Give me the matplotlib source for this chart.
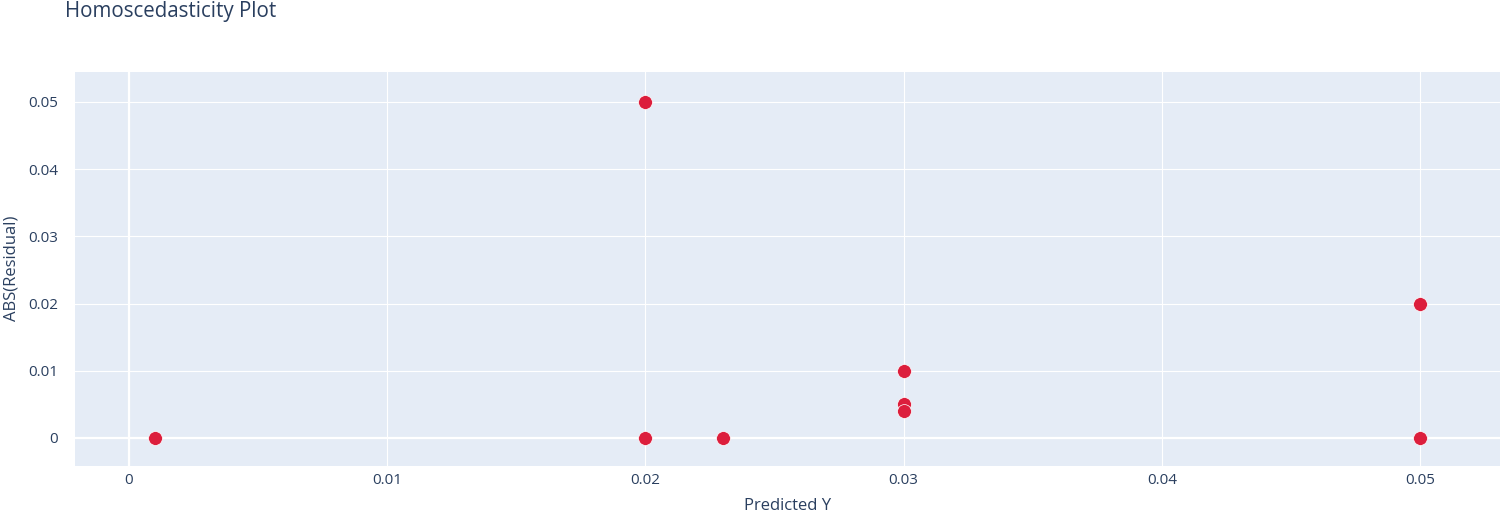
import matplotlib
matplotlib.use('agg')
import matplotlib.pyplot as plt

# data
predicted = [0.001, 0.02, 0.02, 0.023, 0.03, 0.03, 0.03, 0.05, 0.05]
abs_resid = [0.0, 0.05, 0.0, 0.0, 0.01, 0.005, 0.004, 0.02, 0.0]
x_ticks = [0, 0.01, 0.02, 0.03, 0.04, 0.05]
x_labels = ['0', '0.01', '0.02', '0.03', '0.04', '0.05']
y_ticks = [0, 0.01, 0.02, 0.03, 0.04, 0.05]
y_labels = ['0', '0.01', '0.02', '0.03', '0.04', '0.05']

plt.rcParams['font.family'] = ['Open Sans', 'DejaVu Sans']
txt = '#2a3f5f'

W, H = 1505, 515
fig = plt.figure(figsize=(W / 100, H / 100), dpi=100)
ax = fig.add_axes([75 / W, 1 - 466 / H, (1500 - 75) / W, (466 - 72) / H])
ax.set_facecolor('#e5ecf6')
for s in ax.spines.values():
    s.set_visible(False)

ax.set_xlim(-0.00209, 0.0531)
ax.set_ylim(-0.00417, 0.05446)
ax.set_xticks(x_ticks)
ax.set_xticklabels(x_labels)
ax.set_yticks(y_ticks)
ax.set_yticklabels(y_labels)
ax.tick_params(axis='x', length=0, labelsize=11, colors=txt, pad=5)
ax.tick_params(axis='y', length=0, labelsize=11, colors=txt, pad=12)
ax.grid(color='white', linewidth=0.8)
ax.set_axisbelow(True)
ax.axhline(0, color='white', linewidth=1.6, zorder=1)
ax.axvline(0, color='white', linewidth=1.6, zorder=1)

ax.scatter(predicted, abs_resid, s=100, color='#dc1e3c', edgecolor='white',
           linewidth=0.5, zorder=3)

fig.text(788 / W, 1 - 506 / H, 'Predicted Y', fontsize=12, color=txt,
         ha='center', va='center')
fig.text(12 / W, 1 - 268 / H, 'ABS(Residual)', fontsize=12, color=txt,
         ha='center', va='center', rotation=90)
fig.text(65 / W, 1 - 12 / H, 'Homoscedasticity Plot', fontsize=14.8,
         color=txt, ha='left', va='center')

plt.savefig('out.png', dpi=100)
plt.close()
